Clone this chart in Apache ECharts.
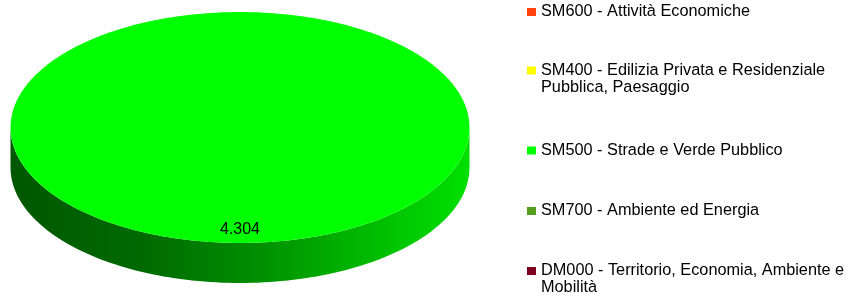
<!DOCTYPE html>
<html>
<head>
<meta charset="utf-8">
<script src="https://cdn.jsdelivr.net/npm/echarts@6/dist/echarts.min.js"></script>
<style>
html, body { margin: 0; padding: 0; background: #fff; }
#main { width: 848px; height: 296px; }
</style>
</head>
<body>
<div id="main"></div>
<script>
// dati
var categories = [
  'SM600 - Attività Economiche',
  'SM400 - Edilizia Privata e Residenziale\nPubblica, Paesaggio',
  'SM500 - Strade e Verde Pubblico',
  'SM700 - Ambiente ed Energia',
  'DM000 - Territorio, Economia, Ambiente e\nMobilità'
];
var values = [0, 0, 4304, 0, 0];

var colors = ['#ff420e', '#ffff00', '#00ff00', '#579d1c', '#7e0021'];

// geometria della torta 3d
var cx = 240, cy = 127.5, rx = 229.5, ry = 115.5, depth = 40;
var total = values.reduce(function (a, b) { return a + b; }, 0);

function fmt(v) {
  return String(v).replace(/\B(?=(\d{3})+(?!\d))/g, '.');
}

function shade(hex, f) {
  var n = parseInt(hex.slice(1), 16);
  var r = Math.round(((n >> 16) & 255) * f);
  var g = Math.round(((n >> 8) & 255) * f);
  var b = Math.round((n & 255) * f);
  return 'rgb(' + r + ',' + g + ',' + b + ')';
}

function arc(a0, a1, dy) {
  var pts = [];
  var steps = Math.max(4, Math.ceil((a1 - a0) / (Math.PI * 2) * 240));
  for (var s = 0; s <= steps; s++) {
    var a = a0 + (a1 - a0) * s / steps;
    pts.push([cx + rx * Math.cos(a), cy + ry * Math.sin(a) + dy]);
  }
  return pts;
}

function renderSlice(params, api) {
  var i = params.seriesIndex;
  var v = api.value(0);
  if (!v) return;
  var before = 0;
  for (var k = 0; k < i; k++) before += values[k];
  var a0 = -Math.PI / 2 + before / total * Math.PI * 2;
  var a1 = a0 + v / total * Math.PI * 2;
  var full = v === total;
  var color = colors[i];
  var children = [];

  // lato visibile (metà anteriore)
  for (var m = -1; m <= 1; m++) {
    var lo = Math.max(a0, m * Math.PI * 2);
    var hi = Math.min(a1, m * Math.PI * 2 + Math.PI);
    if (lo < hi) {
      var pts = arc(lo, hi, 0).concat(arc(lo, hi, depth).reverse());
      children.push({
        type: 'polygon',
        shape: { points: pts },
        style: {
          fill: new echarts.graphic.LinearGradient(cx - rx, 0, cx + rx, 0, [
            { offset: 0, color: shade(color, 0.34) },
            { offset: 0.3, color: shade(color, 0.42) },
            { offset: 0.55, color: shade(color, 0.57) },
            { offset: 0.85, color: shade(color, 0.78) },
            { offset: 1, color: shade(color, 0.88) }
          ], true)
        }
      });
    }
  }

  // faccia superiore
  var top = arc(a0, a1, 0);
  if (!full) top = [[cx, cy]].concat(top);
  children.push({
    type: 'polygon',
    shape: { points: top },
    style: { fill: color }
  });

  // etichetta
  var am = (a0 + a1) / 2;
  children.push({
    type: 'text',
    style: {
      text: fmt(v),
      x: cx + rx * 0.887 * Math.cos(am),
      y: cy + ry * 0.887 * Math.sin(am),
      align: 'center',
      verticalAlign: 'middle',
      font: '16px "Liberation Sans"',
      fill: '#000'
    }
  });

  return { type: 'group', children: children };
}

var legendTops = [3.5, 45, 142, 202.5, 245.5];

var myChart = echarts.init(document.getElementById('main'));
myChart.setOption({
  animation: false,
  color: colors,
  legend: categories.map(function (name, i) {
    var twoLines = name.indexOf('\n') >= 0;
    return {
      data: [name],
      orient: 'vertical',
      left: 527,
      top: legendTops[i],
      padding: 0,
      icon: 'rect',
      itemWidth: 9,
      itemHeight: 8,
      selectedMode: false,
      itemStyle: { borderWidth: 0 },
      // riga vuota davanti: la prima riga resta allineata al quadratino
      formatter: function (n) { return twoLines ? '\n' + n : n; },
      textStyle: {
        fontFamily: 'Liberation Sans',
        fontSize: 16.3,
        lineHeight: 17,
        color: '#000'
      }
    };
  }),
  series: categories.map(function (name, i) {
    return {
      name: name,
      type: 'custom',
      coordinateSystem: 'none',
      renderItem: renderSlice,
      itemStyle: { color: colors[i] },
      data: [[values[i]]]
    };
  })
});
</script>
</body>
</html>
